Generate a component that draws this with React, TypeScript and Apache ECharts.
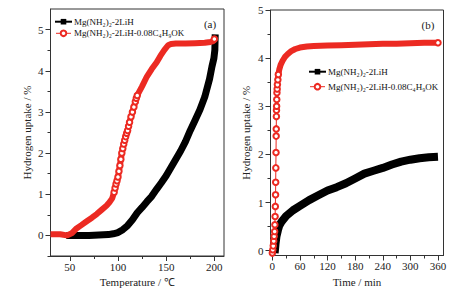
import React, { useEffect, useRef } from 'react';
import * as echarts from 'echarts';

// ---- names / labels ----
const S1 = 'Mg(NH₂)₂-2LiH';
const S2 = 'Mg(NH₂)₂-2LiH-0.08C₄H₉OK';
const panelLabels = ['(a)', '(b)'];
const xTitleA = 'Temperature / ℃';
const xTitleB = 'Time / min';
const yTitle = 'Hydrogen uptake / %';

// ---- ticks ----
const tempTicks = [50, 100, 150, 200];
const tempMinor = [75, 125, 175];
const timeTicks = [0, 60, 120, 180, 240, 300, 360];
const timeMinor = [30, 90, 150, 210, 270, 330];
const uptakeTicks = [0, 1, 2, 3, 4, 5];
const uptakeMinor = [-0.5, 0.5, 1.5, 2.5, 3.5, 4.5];

// ---- panel (a): uptake vs temperature ----
const blackTemp: [number, number][] = [
  [50, 0], [60, 0], [70, 0], [80, 0.01], [90, 0.02], [95, 0.04], [100, 0.07],
  [105, 0.14], [110, 0.24], [115, 0.38], [120, 0.55], [125, 0.68], [130, 0.82],
  [135, 0.95], [140, 1.12], [145, 1.28], [150, 1.45], [155, 1.65], [160, 1.85],
  [165, 2.05], [170, 2.28], [175, 2.55], [180, 2.8], [185, 3.05], [190, 3.36],
  [195, 3.8], [197.5, 4.1], [199.5, 4.3], [200.5, 4.5], [200.8, 4.8],
];
const redTemp: [number, number][] = [
  [30, 0.03], [40, 0.03], [47, 0.0], [52, 0.05], [57, 0.17], [62, 0.25],
  [68, 0.35], [73, 0.43], [78, 0.52], [83, 0.62], [88, 0.72], [91, 0.8],
  [94, 0.9], [96, 1.05], [97, 1.15], [98, 1.25], [99, 1.33], [100, 1.42],
  [101, 1.56], [102, 1.7], [103, 1.85], [104, 2.0], [105, 2.11], [106, 2.22],
  [107, 2.31], [108, 2.4], [109, 2.48], [110, 2.55], [111, 2.65], [112, 2.75],
  [113.5, 2.88], [115, 3.0], [116.5, 3.12], [118, 3.25], [119, 3.33], [120, 3.4],
  [125, 3.62], [130, 3.86], [135, 4.04], [140, 4.2], [144, 4.36], [148, 4.5],
  [152, 4.62], [155, 4.65], [160, 4.66], [170, 4.66], [180, 4.67], [190, 4.68],
  [196, 4.7], [199, 4.72], [200, 4.77],
];

// ---- panel (b): uptake vs time ----
const blackTime: [number, number][] = [
  [5, -0.05], [7, 0.15], [9, 0.3], [12, 0.42], [15, 0.52], [20, 0.6], [30, 0.72],
  [45, 0.84], [60, 0.93], [80, 1.05], [100, 1.15], [120, 1.25], [140, 1.32],
  [160, 1.4], [180, 1.5], [200, 1.6], [220, 1.66], [240, 1.72], [260, 1.79],
  [280, 1.85], [300, 1.89], [320, 1.92], [340, 1.94], [360, 1.95],
];
const redTime: [number, number][] = [
  [0, -0.05], [1, 0.02], [2, 0.1], [3, 0.2], [4, 0.3], [5, 0.4], [5.5, 0.54],
  [6, 0.71], [6.5, 0.92], [7, 1.16], [7.3, 1.42], [7.6, 1.72], [8, 2.04],
  [8.3, 2.38], [8.5, 2.53], [8.8, 2.79], [9, 2.92], [9.3, 3.0], [9.6, 3.14],
  [10, 3.28], [10.5, 3.36], [11, 3.45], [12, 3.55], [13, 3.66], [15, 3.76],
  [18, 3.86], [22, 3.94], [27, 4.02], [33, 4.08], [40, 4.14], [50, 4.19],
  [60, 4.22], [75, 4.24], [90, 4.25], [120, 4.26], [150, 4.27], [180, 4.28],
  [210, 4.29], [240, 4.3], [270, 4.3], [300, 4.31], [330, 4.32], [360, 4.32],
];

const FONT = '"Liberation Serif", "Times New Roman", serif';
const RED = '#ec2a22';
const AX = '#333';

function mainAxis(gridIndex: number, min: number, max: number, ticks: number[], name: string, vertical: boolean, nameGap: number) {
  return {
    type: 'value', gridIndex, min, max,
    name, nameLocation: 'middle', nameGap,
    nameTextStyle: { fontFamily: FONT, fontSize: 11, color: '#222' },
    axisLine: { show: true, onZero: false, lineStyle: { color: AX, width: 1 } },
    axisTick: { show: true, inside: false, length: 5, customValues: ticks, lineStyle: { color: AX } },
    axisLabel: { show: true, customValues: ticks, margin: vertical ? 7 : 5, fontFamily: FONT, fontSize: 11, color: '#222' },
    splitLine: { show: false },
  };
}
function minorAxis(gridIndex: number, min: number, max: number, ticks: number[]) {
  return {
    type: 'value', gridIndex, min, max,
    axisLine: { show: false, onZero: false },
    axisTick: { show: true, inside: false, length: 3, customValues: ticks, lineStyle: { color: AX } },
    axisLabel: { show: false },
    splitLine: { show: false },
  };
}

export default function App() {
  const ref = useRef<HTMLDivElement>(null);
  useEffect(() => {
    if (!ref.current) return;
    const chart = echarts.init(ref.current, undefined, { renderer: 'svg' });
    const inRange = (lo: number, hi: number, last: number) => (v: number[], p: any) =>
      (v[0] >= lo && v[0] <= hi) || p.dataIndex === last ? 5.5 : 0;
    const legendText = { fontFamily: FONT, fontSize: 9, color: '#111', lineHeight: 10, padding: [0, 0, 0, -2] };
    const legendData = [
      { name: S1, lineStyle: { width: 2 } },
      { name: S2, lineStyle: { width: 1 } },
    ];
    chart.setOption({
      animation: false,
      grid: [
        { left: 50.5, top: 9, width: 173.5, height: 247, show: true, borderColor: AX, borderWidth: 1 },
        { left: 270.5, top: 10, width: 173, height: 245.5, show: true, borderColor: AX, borderWidth: 1 },
      ],
      xAxis: [
        { ...mainAxis(0, 30, 210, tempTicks, xTitleA, false, 20), position: 'bottom' },
        { ...mainAxis(1, -4, 372, timeTicks, xTitleB, false, 20), position: 'bottom' },
        { ...minorAxis(0, 30, 210, tempMinor), position: 'bottom' },
        { ...minorAxis(1, -4, 372, timeMinor), position: 'bottom' },
      ],
      yAxis: [
        { ...mainAxis(0, -0.5, 5.5, uptakeTicks, yTitle, true, 18), position: 'left' },
        { ...mainAxis(1, -0.1, 5, uptakeTicks, yTitle, true, 19), position: 'left' },
        { ...minorAxis(0, -0.5, 5.5, uptakeMinor), position: 'left' },
        { ...minorAxis(1, -0.1, 5, uptakeMinor.filter((v) => v > 0)), position: 'left' },
      ],
      legend: [
        {
          left: 55, top: 16.7, padding: 0, orient: 'vertical', itemWidth: 15, itemHeight: 7, itemGap: 1.6,
          data: legendData, textStyle: legendText, selectedMode: false,
        },
        {
          left: 309, top: 66.7, padding: 0, orient: 'vertical', itemWidth: 15, itemHeight: 7, itemGap: 5,
          data: legendData, textStyle: legendText, selectedMode: false,
        },
      ],
      graphic: [
        { type: 'text', x: 210, y: 24, style: { text: panelLabels[0], font: `11px ${FONT}`, fill: '#222', align: 'center', verticalAlign: 'middle' } },
        { type: 'text', x: 428, y: 25, style: { text: panelLabels[1], font: `11px ${FONT}`, fill: '#222', align: 'center', verticalAlign: 'middle' } },
      ],
      series: [
        {
          name: S1, type: 'line', xAxisIndex: 0, yAxisIndex: 0, data: blackTemp,
          symbol: 'rect', showSymbol: false, color: '#000',
          lineStyle: { width: 7, color: '#000', cap: 'square' }, z: 2,
        },
        {
          name: S2, type: 'line', xAxisIndex: 0, yAxisIndex: 0, data: redTemp,
          symbol: 'emptyCircle', symbolSize: inRange(95.5, 120.5, redTemp.length - 1), color: RED,
          itemStyle: { color: RED, borderWidth: 1 },
          lineStyle: { width: 6, color: RED }, z: 3,
        },
        {
          name: S1, type: 'line', xAxisIndex: 1, yAxisIndex: 1, data: blackTime,
          symbol: 'rect', showSymbol: false, color: '#000',
          lineStyle: { width: 8, color: '#000' }, z: 2,
        },
        {
          type: 'line', xAxisIndex: 1, yAxisIndex: 1, data: redTime.filter((d) => d[0] >= 12),
          symbol: 'none', silent: true, lineStyle: { width: 6, color: RED }, z: 3,
        },
        {
          name: S2, type: 'line', xAxisIndex: 1, yAxisIndex: 1, data: redTime,
          symbol: 'emptyCircle', symbolSize: inRange(-1, 13.5, redTime.length - 1), color: RED,
          itemStyle: { color: RED, borderWidth: 1 },
          lineStyle: { width: 1, color: RED }, z: 4,
        },
      ],
    });
    return () => chart.dispose();
  }, []);
  return <div ref={ref} style={{ position: 'fixed', left: 0, top: 0, width: 470, height: 293, background: '#fff' }} />;
}
